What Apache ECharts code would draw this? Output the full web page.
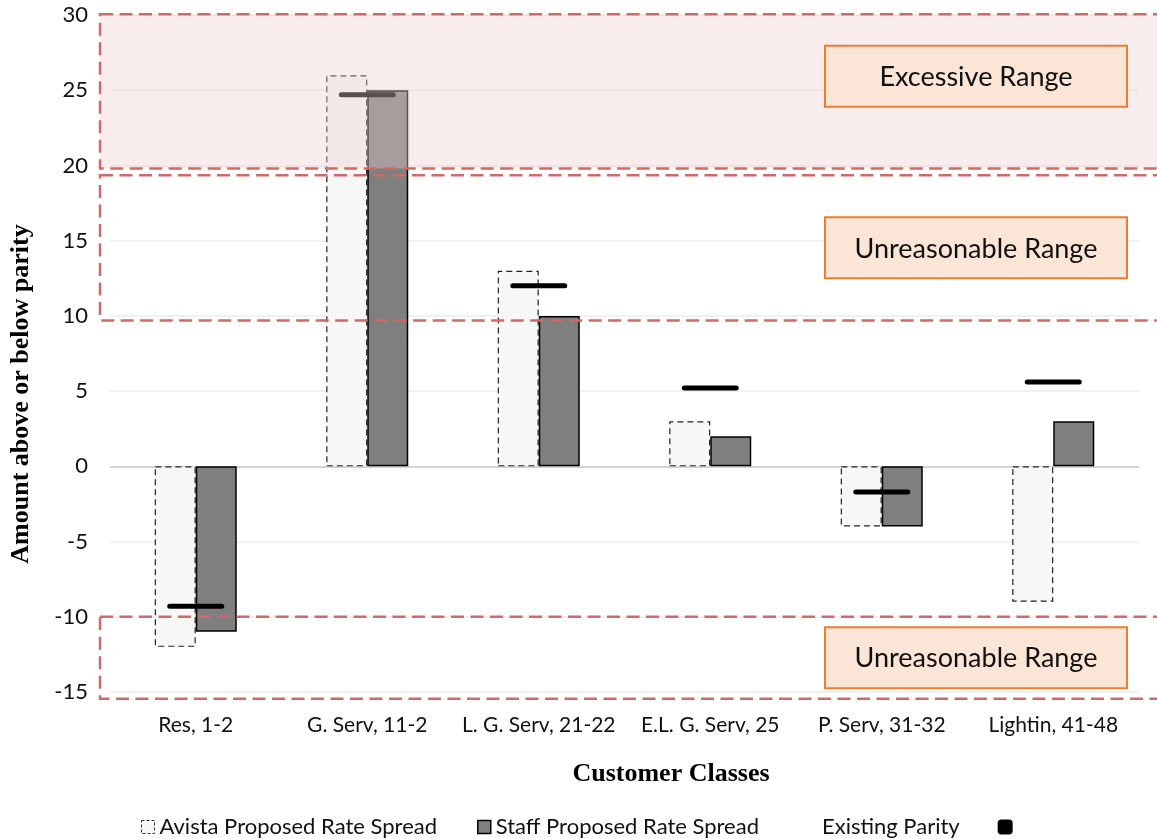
<!DOCTYPE html>
<html>
<head>
<meta charset="utf-8">
<script src="https://cdn.jsdelivr.net/npm/echarts@6/dist/echarts.min.js"></script>
<style>
  html, body { margin: 0; padding: 0; background: #fff; }
  #chart { width: 1157px; height: 839px; }
</style>
</head>
<body>
<div id="chart"></div>
<script>
// Customer classes on the category axis
const categories = ['Res, 1-2', 'G. Serv, 11-2', 'L. G. Serv, 21-22', 'E.L. G. Serv, 25', 'P. Serv, 31-32', 'Lightin, 41-48'];
// Amount above (+) or below (-) parity for each proposal
const avistaSpread = [-12, 26, 13, 3, -4, -9];
const staffSpread = [-11, 25, 10, 2, -4, 3];
const existingParity = [-9.3, 24.7, 12, 5.2, -1.7, 5.6];
// Value axis ticks
const yMin = -15, yMax = 30, yStep = 5;
// Shaded / outlined ranges on the value axis: [upper, lower] edge
const excessiveRange = [30.05, 19.8];
const upperUnreasonableRange = [19.35, 9.7];
const lowerUnreasonableRange = [-10, -15.45];

const FONT = 'Lato, "Open Sans", sans-serif';
const SERIF = '"Liberation Serif", "DejaVu Serif", serif';
const TEXT = '#111';

const chart = echarts.init(document.getElementById('chart'));

const parityBar = 'path://M2.5,0 H54.5 A2.5,2.5 0 0 1 54.5,5 H2.5 A2.5,2.5 0 0 1 2.5,0 Z';

chart.setOption({
  animation: false,
  backgroundColor: '#fff',
  grid: { left: 110, right: 18, top: 15, bottom: 147, containLabel: false },
  legend: [
    {
      left: 136, top: 811,
      itemWidth: 13, itemHeight: 13, itemGap: 40,
      textStyle: { fontFamily: FONT, fontSize: 22, color: TEXT, padding: [0, 0, 0, 0] },
      data: [
        { name: 'Avista Proposed Rate Spread', icon: 'rect',
          itemStyle: { color: '#f7f7f7', borderColor: '#333', borderWidth: 1, borderType: [3, 2] } },
        { name: 'Staff Proposed Rate Spread', icon: 'rect',
          itemStyle: { color: '#7f7f7f', borderColor: '#000', borderWidth: 1.5 } }
      ]
    },
    {
      left: 817, top: 811, align: 'right',
      itemWidth: 15, itemHeight: 15, itemGap: 10,
      textStyle: { fontFamily: FONT, fontSize: 22, color: TEXT, padding: [0, 33, 0, 0] },
      data: [
        { name: 'Existing Parity', icon: 'roundRect', itemStyle: { color: '#000' } }
      ]
    }
  ],
  xAxis: {
    type: 'category',
    data: categories,
    axisLine: { show: false },
    axisTick: { show: false },
    axisLabel: { fontFamily: FONT, fontSize: 21, color: TEXT, margin: 23, interval: 0 }
  },
  yAxis: {
    type: 'value',
    min: yMin, max: yMax, interval: yStep,
    axisLine: { show: false },
    axisTick: { show: false },
    axisLabel: { fontFamily: FONT, fontSize: 22, color: TEXT, margin: 22 },
    splitLine: { lineStyle: { color: '#ededed', width: 1.5 } }
  },
  series: [
    {
      name: 'Avista Proposed Rate Spread',
      type: 'bar',
      data: avistaSpread,
      barWidth: 41,
      barGap: '0%',
      itemStyle: { color: '#f7f7f7', borderColor: '#222', borderWidth: 1.2, borderType: [6, 4] },
      markLine: {
        silent: true, symbol: 'none', label: { show: false },
        lineStyle: { color: '#d4d4d4', width: 2, type: 'solid' },
        data: [{ yAxis: 0 }],
        z: 1
      },
      z: 3
    },
    {
      name: 'Staff Proposed Rate Spread',
      type: 'bar',
      data: staffSpread,
      barWidth: 41,
      barGap: '0%',
      itemStyle: { color: '#7f7f7f', borderColor: '#000', borderWidth: 1.5 },
      z: 3
    },
    {
      name: 'Existing Parity',
      type: 'scatter',
      data: existingParity,
      symbol: parityBar,
      symbolSize: [57, 5],
      itemStyle: { color: '#000', opacity: 1 },
      z: 5
    }
  ]
});

// Range outlines and labels placed through the value axis scale
function yPx(v) { return chart.convertToPixel({ yAxisIndex: 0 }, v); }
const RED = '#cf6a68';
const bandLeft = 100, bandRight = 1185;

function band(range, filled) {
  const y0 = yPx(range[0]), y1 = yPx(range[1]);
  return {
    type: 'rect', z: 100, silent: true,
    shape: { x: bandLeft, y: y0, width: bandRight - bandLeft, height: y1 - y0 },
    style: {
      fill: filled ? 'rgba(236,206,208,0.38)' : 'none',
      stroke: RED, lineWidth: 2.5, lineDash: [13, 6.5]
    }
  };
}
function labelBox(text, range, shift) {
  const cy = (yPx(range[0]) + yPx(range[1])) / 2 + shift;
  return {
    type: 'group', z: 110, silent: true,
    children: [
      { type: 'rect', z: 110,
        shape: { x: 825, y: cy - 30.5, width: 302, height: 61 },
        style: { fill: '#fbe5d6', stroke: '#ed7d31', lineWidth: 2 } },
      { type: 'text', z: 111,
        style: { x: 976, y: cy + 1, text: text, align: 'center', verticalAlign: 'middle',
                 font: '27px ' + FONT, fill: TEXT } }
    ]
  };
}

chart.setOption({
  graphic: [
    band(excessiveRange, true),
    band(upperUnreasonableRange, false),
    band(lowerUnreasonableRange, false),
    labelBox('Excessive Range', excessiveRange, -15),
    labelBox('Unreasonable Range', upperUnreasonableRange, 0),
    labelBox('Unreasonable Range', lowerUnreasonableRange, 0),
    { type: 'text', z: 50, silent: true, rotation: Math.PI / 2,
      x: 21, y: 394,
      style: { text: 'Amount above or below parity', align: 'center', verticalAlign: 'middle',
               font: 'bold 26px ' + SERIF, fill: '#000' } },
    { type: 'text', z: 50, silent: true,
      x: 671, y: 774,
      style: { text: 'Customer Classes', align: 'center', verticalAlign: 'middle',
               font: 'bold 26px ' + SERIF, fill: '#000' } }
  ]
});
</script>
</body>
</html>
